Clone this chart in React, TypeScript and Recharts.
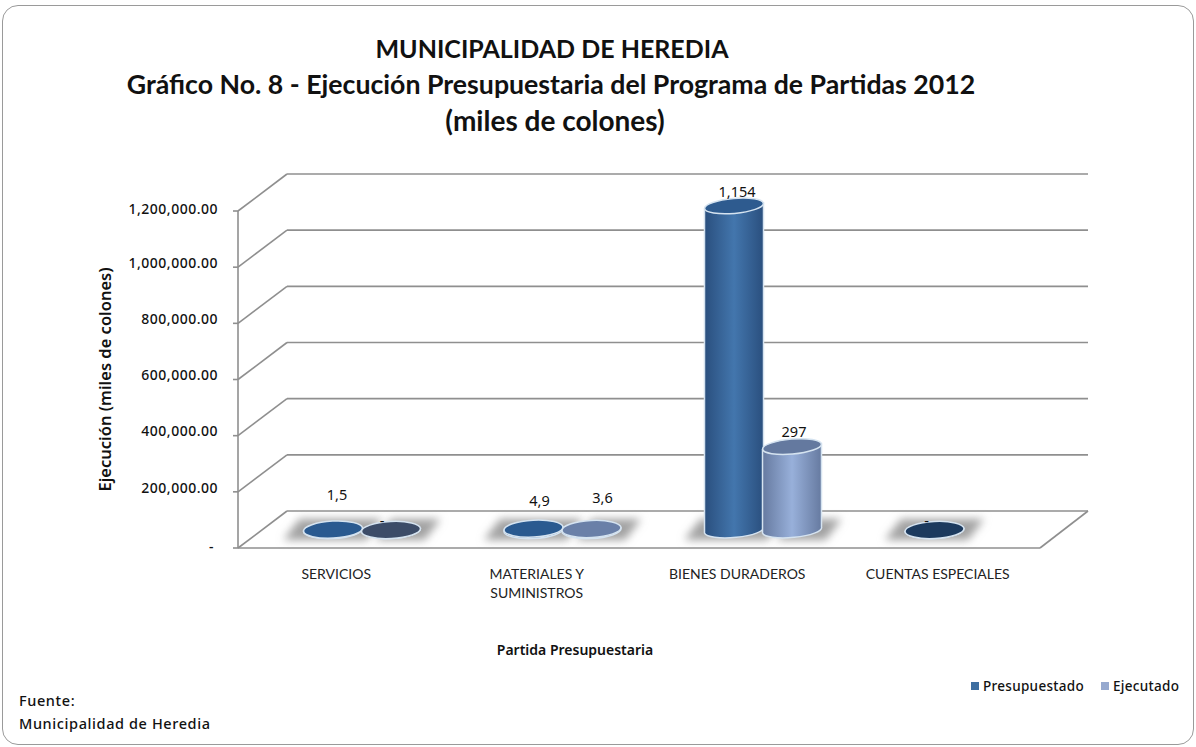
import React from "react";
import { ComposedChart, Bar, XAxis, YAxis, CartesianGrid, Legend, LabelList } from "recharts";

const categories = ["SERVICIOS", "MATERIALES Y\nSUMINISTROS", "BIENES DURADEROS", "CUENTAS ESPECIALES"];
const presupuestado = [1500, 4900, 1154000, 0];
const ejecutado: (number | null)[] = [0, 3600, 297000, null];
const presLabels = ["1,5", "4,9", "1,154", "-"];
const ejeLabels = ["-", "3,6", "297", ""];
const yTicks = [0, 200000, 400000, 600000, 800000, 1000000, 1200000];
const seriesNames = ["Presupuestado", "Ejecutado"];
const titleLines = [
  "MUNICIPALIDAD DE HEREDIA",
  "Gráfico No. 8 - Ejecución Presupuestaria del Programa de Partidas 2012",
  "(miles de colones)",
];

const data = categories.map((name, i) => ({ name, pres: presupuestado[i], eje: ejecutado[i] }));

// styling
const FONT = "Lato, 'Noto Sans', sans-serif";
const BODY_FONT = "'Noto Sans', sans-serif";
const GRID = "#8f8f8f";
const DEPTH_X = 49;
const DEPTH_Y = 37;
const BAR_DX = 24;
const BAR_DY = -18;
const titleSizes = [25, 26.7, 28];
const titleCentres = [552, 551, 555];
const presCaps = ["#2a5a90", "#2a5a90", "#2e5b8f", "#1c3a5e"];
const ejeCaps = ["#3c4c68", "#6a80a8", "#64799f", "#64799f"];
const presNudge = [[4, -20], [6, -14], [3, 0], [-8, 5]];
const ejeNudge = [[-9, 5], [11, -17], [2, 0], [0, 0]];

const Cylinder = (caps: string[], gradient: string, shadowLeft: number, shadowRight: number) => (p: any) => {
  const { x, y, width, height, index } = p;
  if (x == null || y == null) return <g />;
  const flat = height < 10;
  const rx = width / 2 + 0.5;
  const cx = x + width / 2 + BAR_DX;
  const top = y + BAR_DY;
  const base = y + height + BAR_DY;
  const ry = flat ? 8.5 : 7.5;
  const rot = flat ? -3 : -5;
  const lift = flat ? 1.5 : 3;
  const sh = `${cx - rx - shadowLeft},${base + 10} ${cx - rx - shadowLeft + 16},${base - 11} ${cx + rx + shadowRight},${base - 11} ${cx + rx + shadowRight - 16},${base + 10}`;
  const body = `M${cx - rx},${top + lift} L${cx - rx},${base + lift} A${rx},${ry} ${rot} 0 0 ${cx + rx},${base - lift} L${cx + rx},${top - lift} Z`;
  return (
    <g>
      <polygon points={sh} fill="#a2a2a2" filter="url(#soft)" />
      <path d={body} fill={`url(#${gradient})`} stroke="#d5e3f0" strokeWidth={1.5} />
      <ellipse
        cx={cx}
        cy={top}
        rx={rx}
        ry={ry}
        transform={`rotate(${rot} ${cx} ${top})`}
        fill={caps[index]}
        stroke="#d5e3f0"
        strokeWidth={1.5}
      />
    </g>
  );
};

const DataLabel = (labels: string[], nudge: number[][]) => (p: any) => {
  const { x, y, width, index } = p;
  const text = labels[index];
  if (!text) return null;
  return (
    <text
      x={x + width / 2 + BAR_DX + nudge[index][0]}
      y={y + BAR_DY - 13 + nudge[index][1]}
      textAnchor="middle"
      dominantBaseline="middle"
      fontFamily={BODY_FONT}
      fontSize={14.5}
      fill="#111"
    >
      {text}
    </text>
  );
};

const HGrid = (p: any) => {
  const { x1, x2, y1, index } = p;
  const isFloor = Math.abs(y1 - 548) < 1;
  return (
    <g key={index} stroke={GRID} strokeWidth={1.6} fill="none">
      <line x1={x1} y1={y1} x2={x1 + DEPTH_X} y2={y1 - DEPTH_Y} />
      <line x1={x1 + DEPTH_X} y1={y1 - DEPTH_Y} x2={x2 + DEPTH_X - 1} y2={y1 - DEPTH_Y} />
      {isFloor && <line x1={x1} y1={y1} x2={x2} y2={y1} />}
      {isFloor && <line x1={x2} y1={y1} x2={x2 + DEPTH_X - 1} y2={y1 - DEPTH_Y} />}
    </g>
  );
};

const YTick = (p: any) => {
  const { x, y, payload } = p;
  const v = payload.value;
  const isZero = v === 0;
  const isTop = v === 1200000;
  return (
    <text
      x={isZero ? x - 17 : x - 13}
      y={isZero ? y : isTop ? y - 1 : y - 3}
      textAnchor="end"
      dominantBaseline="middle"
      fontFamily={BODY_FONT}
      fontWeight={500}
      fontSize={14}
      letterSpacing={0.5}
      fill="#111"
    >
      {isZero ? "-" : v.toLocaleString("en-US", { minimumFractionDigits: 2 })}
    </text>
  );
};

const XTick = (p: any) => {
  const { x, payload } = p;
  const lines = String(payload.value).split("\n");
  return (
    <text
      x={x - 2}
      y={575}
      textAnchor="middle"
      fontFamily={FONT}
      fontSize={14}
      fill="#222"
      dominantBaseline="middle"
    >
      {lines.map((l, i) => (
        <tspan key={i} x={x - 2} dy={i === 0 ? 0 : 19}>
          {l}
        </tspan>
      ))}
    </text>
  );
};

const YTitle = (p: any) => {
  const cy = p.viewBox.y + p.viewBox.height / 2;
  return (
    <text
      x={107}
      y={cy}
      transform={`rotate(-90 107 ${cy})`}
      textAnchor="middle"
      dominantBaseline="middle"
      fontFamily={BODY_FONT}
      fontWeight={600}
      fontSize={16.5}
      fill="#111"
    >
      Ejecución (miles de colones)
    </text>
  );
};

const XTitle = (p: any) => {
  const cx = p.viewBox.x + p.viewBox.width / 2 - 64;
  return (
    <text
      x={cx}
      y={651}
      textAnchor="middle"
      dominantBaseline="middle"
      fontFamily={BODY_FONT}
      fontWeight={600}
      fontSize={14}
      fill="#111"
    >
      Partida Presupuestaria
    </text>
  );
};

const LegendBox = (p: any) => {
  const items = [...(p.payload || [])].sort((a: any, b: any) => seriesNames.indexOf(a.value) - seriesNames.indexOf(b.value));
  return (
    <div style={{ display: "flex", gap: 17, fontFamily: BODY_FONT, fontSize: 13.5, fontWeight: 500, letterSpacing: 0.3, color: "#111", whiteSpace: "nowrap" }}>
      {items.map((e: any) => (
        <span key={e.value} style={{ display: "flex", alignItems: "center", gap: 4 }}>
          <span style={{ width: 8, height: 8, background: e.color, display: "inline-block" }} />
          {e.value}
        </span>
      ))}
    </div>
  );
};

export default function App() {
  return (
    <div style={{ position: "absolute", left: 0, top: 0, width: 1196, height: 747, background: "#fff", overflow: "hidden" }}>
      <div style={{ position: "absolute", left: 2, top: 5, width: 1190, height: 738, border: "1.5px solid #9a9a9a", borderRadius: 16 }} />
      {titleLines.map((t, i) => (
        <div
          key={t}
          style={{
            position: "absolute",
            left: titleCentres[i] - 600,
            width: 1200,
            top: 32 + i * 36,
            textAlign: "center",
            fontFamily: FONT,
            fontWeight: 700,
            fontSize: titleSizes[i],
            lineHeight: "32px",
            color: "#111",
            whiteSpace: "nowrap",
          }}
        >
          {t}
        </div>
      ))}
      <div style={{ position: "absolute", left: 19, top: 689, fontFamily: BODY_FONT, fontWeight: 500, fontSize: 14.5, letterSpacing: 0.6, lineHeight: "23px", color: "#111" }}>
        Fuente:
        <br />
        Municipalidad de Heredia
      </div>
      <div style={{ position: "absolute", left: 0, top: 0 }}>
        <ComposedChart
          width={1196}
          height={747}
          data={data}
          margin={{ top: 211, right: 156, bottom: 99, left: 0 }}
          barGap={0}
          barSize={58}
        >
          <defs>
            <filter id="soft" x="-30%" y="-80%" width="160%" height="260%">
              <feGaussianBlur stdDeviation="4.5" />
            </filter>
            <linearGradient id="gradPres" x1="0" y1="0" x2="1" y2="0">
              <stop offset="0%" stopColor="#2a4f7e" />
              <stop offset="50%" stopColor="#4376ad" />
              <stop offset="100%" stopColor="#2a4f7e" />
            </linearGradient>
            <linearGradient id="gradEje" x1="0" y1="0" x2="1" y2="0">
              <stop offset="0%" stopColor="#667aa0" />
              <stop offset="50%" stopColor="#98b0da" />
              <stop offset="100%" stopColor="#667aa0" />
            </linearGradient>
          </defs>
          <CartesianGrid vertical={false} horizontal={HGrid as any} />
          <XAxis dataKey="name" interval={0} height={100} axisLine={false} tickLine={false} tick={XTick as any} label={<XTitle />} />
          <YAxis
            width={238}
            domain={[0, 1200000]}
            ticks={yTicks}
            interval={0}
            axisLine={{ stroke: GRID, strokeWidth: 1.6 }}
            tickLine={{ stroke: GRID, strokeWidth: 1.6 }}
            tickSize={5}
            tick={YTick as any}
            label={<YTitle />}
          />
          <Legend
            layout="horizontal"
            verticalAlign="middle"
            align="center"
            content={LegendBox as any}
            wrapperStyle={{ position: "absolute", left: 971, top: 677, width: 220, bottom: "auto", right: "auto" }}
          />
          <Bar dataKey="pres" name="Presupuestado" fill="#3e6ea0" legendType="square" isAnimationActive={false} shape={Cylinder(presCaps, "gradPres", 20, 20) as any}>
            <LabelList dataKey="pres" content={DataLabel(presLabels, presNudge) as any} />
          </Bar>
          <Bar dataKey="eje" name="Ejecutado" fill="#96a9cf" legendType="square" isAnimationActive={false} shape={Cylinder(ejeCaps, "gradEje", -14, 20) as any}>
            <LabelList dataKey="eje" content={DataLabel(ejeLabels, ejeNudge) as any} />
          </Bar>
        </ComposedChart>
      </div>
    </div>
  );
}
